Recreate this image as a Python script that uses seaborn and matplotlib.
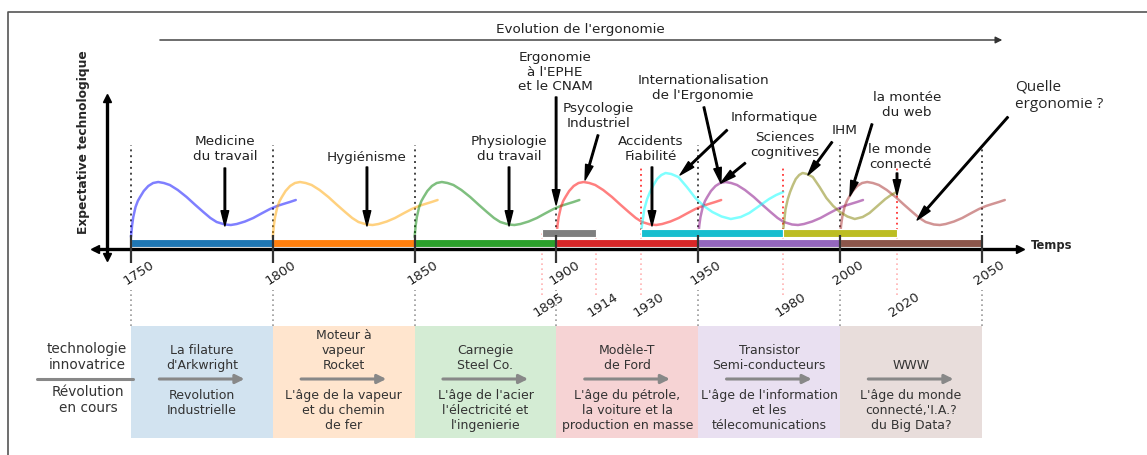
import numpy as np
import pandas as pd
import seaborn as sns
import matplotlib.pyplot as plt

# ---- data -------------------------------------------------------------
main_starts = [1750, 1800, 1850, 1900, 1950, 2000]
main_ends = [1800, 1850, 1900, 1950, 2000, 2050]
main_bar_colors = ["tab:blue", "tab:orange", "tab:green", "tab:red", "tab:purple", "tab:brown"]
main_curve_colors = ["blue", "orange", "green", "red", "purple", "brown"]

sec_starts = [1895, 1930, 1980]
sec_ends = [1914, 1980, 2020]
sec_bar_colors = ["tab:gray", "tab:cyan", "tab:olive"]
sec_curve_colors = [None, "cyan", "olive"]

# shape of a main wave : years after start / height
wave_t = [0, 0.4, 0.8, 1.6, 2.4, 3.2, 4.5, 6.1, 7.8, 9.6, 11.6, 13.7, 16.5, 19.6,
          22.5, 25.5, 28.0, 30.2, 33.1, 35.2, 37.3, 40.2, 43.1, 46.0, 49.0, 51.5,
          53.7, 56.0, 58.1]
wave_h = [12, 24, 32, 42, 48, 52, 58, 63, 66, 67, 66, 64, 59, 52,
          44.5, 37, 31, 27, 24.5, 24, 25, 27.5, 31, 35.5, 40, 43,
          45, 47, 49]
# shape of a secondary wave : fraction of the span / height
sec_f = [0, 0.01, 0.02, 0.04, 0.06, 0.085, 0.11, 0.14, 0.17, 0.21, 0.26, 0.32,
         0.38, 0.44, 0.50, 0.565, 0.63, 0.70, 0.76, 0.83, 0.90, 0.95, 1.0]
sec_h = [20, 30, 40, 50, 57, 64, 70, 74, 76, 75, 72, 62,
         51, 43, 37, 32.5, 30, 32, 36, 43, 50, 54, 57]

main_ticks = main_starts + [2050]
sec_ticks = [1895, 1914, 1930, 1980, 2020]

techs = ["La filature\nd'Arkwright", "Moteur à\nvapeur\nRocket", "Carnegie\nSteel Co.",
         "Modèle-T\nde Ford", "Transistor\nSemi-conducteurs", "WWW"]
ages = ["Revolution\nIndustrielle", "L'âge de la vapeur\net du chemin\nde fer",
        "L'âge de l'acier\nl'électricité et\nl'ingenierie",
        "L'âge du pétrole,\nla voiture et la\nproduction en masse",
        "L'âge de l'information\net les\ntélecomunications",
        "L'âge du monde\nconnecté,'I.A.?\ndu Big Data?"]

# (text, text pos, arrow start, arrow tip)
notes = [
    ("Medicine\ndu travail", (1783.1, 100), (1783.1, 81), (1783.1, 23)),
    ("Hygiénisme", (1833.2, 92), (1833.2, 82), (1833.2, 23)),
    ("Physiologie\ndu travail", (1883.3, 100), (1883.3, 82), (1883.3, 23)),
    ("Ergonomie\nà l'EPHE\net le CNAM", (1899.5, 177), (1899.9, 152), (1899.9, 44)),
    ("Psycologie\nIndustriel", (1914.7, 133), (1914.7, 114), (1910.1, 69)),
    ("Accidents\nFiabilité", (1933.4, 100), (1933.7, 82), (1933.7, 23)),
    ("Internationalisation\nde l'Ergonomie", (1951.7, 161), (1952.0, 142), (1958.0, 66)),
    ("Informatique", (1976.7, 132), (1960.2, 119), (1943.6, 74)),
    ("Sciences\ncognitives", (1980.6, 104), (1966.6, 86), (1958.0, 66)),
    ("IHM", (2001.8, 118), (1997.2, 107), (1988.7, 74)),
    ("la montée\ndu web", (2023.6, 144), (2011.3, 125), (2003.5, 53)),
    ("le monde\nconnecté", (2021.2, 92), (2020.1, 76), (2020.1, 54)),
]

# ---- figure -------------------------------------------------------------
sns.set_style("white")
plt.rcParams['font.family'] = ['DejaVu Sans']

fig = plt.figure(figsize=(11.47, 4.55), dpi=100)
ax = fig.add_axes([0, 0, 1, 1])
ax.set_xlim(1703.81, 2108.25)
ax.set_ylim(-206, 249)
ax.axis('off')

# frame of the screenshot
ax.plot([1706.8, 1706.8, 2110], [-210, 237.5, 237.5], color='#555555', lw=1.2, clip_on=False)

# waves
for s, e, c in zip(main_starts, main_ends, main_curve_colors):
    df = pd.DataFrame({"x": s + np.array(wave_t) * (e - s) / 50.0, "y": wave_h})
    sns.lineplot(data=df, x="x", y="y", color=c, alpha=0.5, lw=1.8, ax=ax, zorder=3)
for s, e, c in zip(sec_starts, sec_ends, sec_curve_colors):
    if c is None:
        continue
    df = pd.DataFrame({"x": s + np.array(sec_f) * (e - s), "y": sec_h})
    sns.lineplot(data=df, x="x", y="y", color=c, alpha=0.5, lw=1.8, ax=ax, zorder=3)

# period bars
ax.bar(main_starts, 7.5, width=np.subtract(main_ends, main_starts), bottom=2.5,
       align='edge', color=main_bar_colors, edgecolor='white', lw=0.8, zorder=4)
ax.bar(sec_starts, 8, width=np.subtract(sec_ends, sec_starts), bottom=11.7,
       align='edge', color=sec_bar_colors, edgecolor='white', lw=0.8, zorder=4)

# dotted guides
ax.vlines(main_ticks, 16, 104, colors='#444444', linestyles=(0, (1, 2)), lw=1.4, zorder=2)
ax.vlines(main_ticks, -77, -41, colors='#999999', linestyles=(0, (1, 2)), lw=1.2, zorder=2)
tops = [19, 19, 81, 81, 81]
ax.vlines(sec_ticks, 19, tops, colors='red', linestyles=(0, (1, 2)), lw=1.3, alpha=0.8, zorder=2)
ax.vlines(sec_ticks, -46, 19, colors='red', linestyles=(0, (1, 2)), lw=1.2, alpha=0.3, zorder=2)

# axes with arrows
ax.plot([1736.5, 2063], [0, 0], color='black', lw=2.4, zorder=6, solid_capstyle='butt')
ax.plot([1737.2], [0], marker='<', color='black', ms=6, zorder=6)
ax.plot([2063.6], [0], marker='>', color='black', ms=6, zorder=6)
ax.plot([1741.5, 1741.5], [-7, 150], color='black', lw=2.4, zorder=6)
ax.plot([1741.5], [151], marker='^', color='black', ms=6, zorder=6)
ax.plot([1741.5], [-8], marker='v', color='black', ms=6, zorder=6)
ax.vlines(main_ticks, -14, 14, colors='#333333', lw=1.6, zorder=7)
ax.text(2067.3, 4, "Temps", fontsize=8.3, fontweight='bold', ha='left', va='center')
ax.text(1733.1, 107, "Expectative technologique", fontsize=8.8, fontweight='bold',
        rotation=90, ha='center', va='center')

for t in main_ticks:
    ax.text(t + 2.8, -24, str(t), rotation=33, fontsize=9.5, color='#222222',
            ha='center', va='center')
for t in sec_ticks:
    ax.text(t + 2.5, -56, str(t), rotation=33, fontsize=9.5, color='#222222',
            ha='center', va='center')

# top arrow
ax.annotate('', xy=(2058.2, 209), xytext=(1759.2, 209),
            arrowprops=dict(arrowstyle='-|>', color='#333333', lw=1, mutation_scale=10))
ax.text(1908.3, 219, "Evolution de l'ergonomie", fontsize=9.7, color='#222222',
        ha='center', va='center')

# annotations
arrow_kw = dict(facecolor='black', edgecolor='black', width=1.1, headwidth=5.5,
                headlength=11, shrink=0)
for txt, tpos, start, tip in notes:
    ax.text(tpos[0], tpos[1], txt, fontsize=9.7, color='#222222', ha='center',
            ma='center', va='center', linespacing=1.15, zorder=8)
    ax.annotate('', xy=tip, xytext=start, arrowprops=arrow_kw, zorder=8)
ax.text(2061.7, 153, "Quelle\nergonomie ?", fontsize=11, family=['Open Sans', 'DejaVu Sans'],
        ha='left', ma='left', va='center', linespacing=1.25)
ax.annotate('', xy=(2027.2, 29), xytext=(2059.2, 132), arrowprops=arrow_kw, zorder=8)

# technology boxes
ax.bar(main_starts, -112, width=np.subtract(main_ends, main_starts), bottom=-77,
       align='edge', color=main_bar_colors, alpha=0.2, lw=0, zorder=1)
for s, e, tech, age in zip(main_starts, main_ends, techs, ages):
    mid = (s + e) / 2
    ax.text(mid, -123, tech, fontsize=9, color='#333333', ha='center', ma='center',
            va='bottom', linespacing=1.2)
    ax.annotate('', xy=(s + 41, -130), xytext=(s + 9, -130),
                arrowprops=dict(arrowstyle='-|>', color='#888888', lw=2.2, mutation_scale=13))
    ax.text(mid, -140, age, fontsize=9, color='#333333', ha='center', ma='center',
            va='top', linespacing=1.2)

ax.plot([1716.9, 1750.7], [-130, -130], color='#888888', lw=2.2)
ax.text(1734.5, -123, "technologie\ninnovatrice", fontsize=9.8, color='#333333',
        ha='center', ma='center', va='bottom', linespacing=1.15)
ax.text(1734.8, -136, "Révolution\nen cours", fontsize=9.8, color='#333333',
        ha='center', ma='center', va='top', linespacing=1.15)

plt.savefig("out.png", dpi=100)
